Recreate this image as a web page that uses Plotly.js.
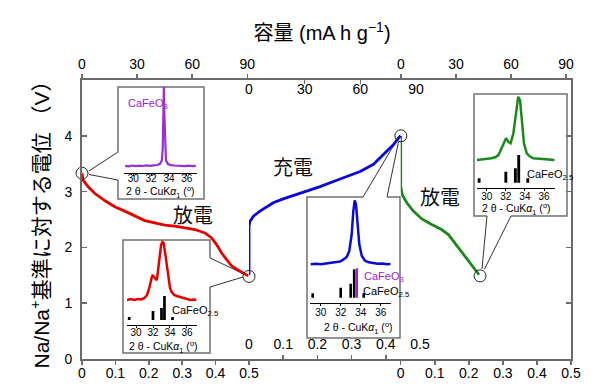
<!DOCTYPE html>
<html><head><meta charset="utf-8">
<script src="https://cdn.plot.ly/plotly-3.0.1.min.js"></script>
<style>html,body{margin:0;padding:0;background:#fff}#chart{width:596px;height:389px}</style>
</head><body><div id="chart"></div>
<script>
// ---------- main electrochemistry curves ----------
// first discharge (x = Na removed/inserted, bottom axis segment 1)
const dischargeX = [0, 0.003, 0.018, 0.038, 0.068, 0.098, 0.128, 0.158, 0.188, 0.218, 0.248, 0.278, 0.308, 0.338, 0.368, 0.388, 0.403, 0.418, 0.433, 0.448, 0.468, 0.488, 0.498];
const dischargeV = [3.33, 3.21, 3.09, 2.97, 2.84, 2.73, 2.65, 2.56, 2.48, 2.44, 2.40, 2.38, 2.35, 2.32, 2.26, 2.17, 2.05, 1.90, 1.78, 1.67, 1.59, 1.52, 1.49];
// charge (middle axis segment)
const chargeX = [0, 0, 0.003, 0.013, 0.032, 0.052, 0.071, 0.100, 0.130, 0.169, 0.208, 0.247, 0.286, 0.325, 0.364, 0.383, 0.403, 0.422, 0.437, 0.443];
const chargeV = [1.51, 2.38, 2.47, 2.56, 2.65, 2.72, 2.80, 2.87, 2.93, 3.00, 3.09, 3.18, 3.27, 3.36, 3.49, 3.60, 3.72, 3.84, 3.96, 4.00];
// second discharge (segment 3)
const discharge2X = [0, 0, 0, 0.005, 0.018, 0.037, 0.062, 0.091, 0.120, 0.140, 0.159, 0.179, 0.198, 0.218, 0.230];
const discharge2V = [4.00, 3.50, 3.09, 2.94, 2.80, 2.65, 2.51, 2.41, 2.32, 2.23, 2.08, 1.93, 1.78, 1.61, 1.51];
// circled measurement points
const circ1X = [0, 0.5], circ1V = [3.33, 1.48];
const circ2X = [0.444], circ2V = [4.00];
const circ3X = [0.233], circ3V = [1.49];

// axis ticks
const compTicks = [0, 0.1, 0.2, 0.3, 0.4, 0.5];
const compLabels = ['0', '0.1', '0.2', '0.3', '0.4', '0.5'];
const capTicks = [0, 30, 60, 90];
const capLabels = ['0', '30', '60', '90'];
const voltTicks = [0, 1, 2, 3, 4];
const xrdTicks = [30, 32, 34, 36];

// ---------- XRD insets (2θ in degrees, intensity in arb. units) ----------
const purpleTheta = [29.1, 29.5, 29.9, 30.3, 30.7, 31.1, 31.5, 31.9, 32.3, 32.7, 33.0, 33.2, 33.3, 33.38, 33.43, 33.48, 33.56, 33.66, 33.85, 34.2, 34.6, 35.0, 35.4, 35.8, 36.2, 36.6, 37.0];
const purpleI = [7.5, 7.0, 7.8, 7.2, 7.6, 7.3, 7.9, 7.4, 8.0, 8.3, 9.5, 13, 25, 60, 88, 60, 25, 13, 9.5, 8.2, 7.8, 7.4, 7.7, 7.2, 7.6, 7.1, 7.4];

const redTheta = [28.95, 29.4, 29.8, 30.2, 30.6, 31.0, 31.3, 31.6, 31.8, 31.95, 32.1, 32.3, 32.45, 32.6, 32.8, 32.95, 33.1, 33.25, 33.4, 33.6, 33.8, 34.0, 34.2, 34.5, 34.8, 35.2, 35.6, 36.0, 36.4, 36.8, 37.1];
const redI = [25, 26, 25, 26, 25.5, 27, 30, 38, 46, 50, 48, 46, 45, 55, 72, 80, 83, 82, 74, 62, 45, 37, 33, 30, 29, 28, 26.5, 26, 25, 25.5, 25];

const blueTheta = [29.0, 29.5, 30.0, 30.6, 31.2, 31.6, 31.93, 32.26, 32.6, 32.86, 33.1, 33.26, 33.4, 33.53, 33.66, 33.86, 34.1, 34.43, 34.8, 35.26, 35.7, 36.2, 36.6, 37.0];
const blueI = [39, 39.5, 39, 40, 40.5, 41, 41.7, 43.7, 46.3, 52.3, 69, 92, 103, 99, 79, 59, 47.6, 42.6, 41, 40, 39.5, 39.8, 39, 39.3];

const greenTheta = [28.95, 29.5, 30.0, 30.5, 30.87, 31.2, 31.39, 31.74, 32.02, 32.26, 32.5, 32.79, 33.04, 33.2, 33.3, 33.49, 33.66, 33.9, 34.19, 34.5, 34.88, 35.4, 35.93, 36.5, 37.1];
const greenI = [28.3, 28.8, 29, 30, 31, 33, 36.6, 45, 50, 46.6, 45, 55, 75, 88, 91.6, 88, 68, 45, 35, 32, 30, 29.5, 29, 28.6, 28.3];

// reference stick patterns
const refTheta = [29.2, 32.0, 33.0, 33.35, 34.3];        // CaFeO2.5
const refRed = [3, 9, 12, 24, 3];
const refBlue = [4.4, 10, 14, 28.4, 4.4];
const refGreen = [4.4, 11, 14.4, 27.7, 4.4];
const ref3Theta = [33.62], ref3Blue = [29.4];             // CaFeO3

// ---------- geometry helpers (pixel -> paper) ----------
const L = 82, R = 571, T = 80, B = 359;
const dx = p => (p - L) / (R - L);
const dy = p => (B - p) / (B - T);
const pathOf = (pts, close) => pts.map((p, i) => (i ? 'L' : 'M') + dx(p[0]).toFixed(5) + ',' + dy(p[1]).toFixed(5)).join(' ') + (close ? ' Z' : '');

const gray = '#6b6b6b';
const latin = 'Liberation Sans, Arial, sans-serif';
const cjk = 'Liberation Sans, Noto Sans CJK JP, sans-serif';
const tickFont = {family: latin, size: 14, color: '#000'};
const insetFont = {family: latin, size: 10, color: '#000'};

const baseAx = {showgrid: false, zeroline: false, showline: true, linecolor: gray, linewidth: 2,
  tickcolor: gray, tickwidth: 1.5, tickfont: tickFont, fixedrange: true};

const insetX = (dom, rng, yref, lso) => ({domain: [dx(dom[0]), dx(dom[1])], range: rng, anchor: yref,
  tickvals: xrdTicks, ticks: 'outside', ticklen: 2, tickcolor: '#000', tickwidth: 1, ticklabelstandoff: lso,
  showline: true, linecolor: '#000', linewidth: 1, showgrid: false, zeroline: false,
  tickfont: insetFont, fixedrange: true});
const insetY = (top, bot, xref, maxv) => ({domain: [dy(bot), dy(top)], range: [0, maxv], anchor: xref, visible: false, fixedrange: true});

const circleMarker = {symbol: 'circle-open', size: 12, color: '#222', line: {width: 1}};
const traces = [
  {x: dischargeX, y: dischargeV, xaxis: 'x', yaxis: 'y', mode: 'lines', line: {color: '#e60000', width: 2.8}},
  {x: chargeX, y: chargeV, xaxis: 'x3', yaxis: 'y', mode: 'lines', line: {color: '#0a0ad8', width: 2.8}},
  {x: discharge2X, y: discharge2V, xaxis: 'x2', yaxis: 'y', mode: 'lines', line: {color: '#1c881c', width: 2.8}},
  {x: circ1X, y: circ1V, xaxis: 'x', yaxis: 'y', mode: 'markers', cliponaxis: false, marker: circleMarker},
  {x: circ2X, y: circ2V, xaxis: 'x3', yaxis: 'y', mode: 'markers', cliponaxis: false, marker: circleMarker},
  {x: circ3X, y: circ3V, xaxis: 'x2', yaxis: 'y', mode: 'markers', cliponaxis: false, marker: circleMarker},
  // empty traces that register the capacity axes and the right-hand frame axis
  {x: [], y: [], xaxis: 'x4', yaxis: 'y', mode: 'lines'},
  {x: [], y: [], xaxis: 'x5', yaxis: 'y', mode: 'lines'},
  {x: [], y: [], xaxis: 'x6', yaxis: 'y', mode: 'lines'},
  {x: [], y: [], xaxis: 'x2', yaxis: 'y2', mode: 'lines'},
  // insets
  {x: purpleTheta, y: purpleI, xaxis: 'x7', yaxis: 'y3', mode: 'lines', line: {color: '#9a2fd6', width: 2.2}},
  {x: redTheta, y: redI, xaxis: 'x8', yaxis: 'y4', mode: 'lines', line: {color: '#e60000', width: 2.5}},
  {x: refTheta, y: refRed, base: 5, width: 0.32, xaxis: 'x8', yaxis: 'y4', type: 'bar', marker: {color: '#000'}},
  {x: blueTheta, y: blueI, xaxis: 'x9', yaxis: 'y5', mode: 'lines', line: {color: '#0a0ad8', width: 2.5}},
  {x: refTheta, y: refBlue, base: 5.6, width: 0.26, xaxis: 'x9', yaxis: 'y5', type: 'bar', marker: {color: '#000'}},
  {x: ref3Theta, y: ref3Blue, base: 5.6, width: 0.22, xaxis: 'x9', yaxis: 'y5', type: 'bar', marker: {color: '#a020d0'}},
  {x: greenTheta, y: greenI, xaxis: 'x10', yaxis: 'y6', mode: 'lines', line: {color: '#1c881c', width: 2.5}},
  {x: refTheta, y: refGreen, base: 5.6, width: 0.3, xaxis: 'x10', yaxis: 'y6', type: 'bar', marker: {color: '#000'}}
];

// inset boxes with speech-bubble wedges
const boxes = [
  {fill: [[118,87],[204,87],[204,199],[118,199],[118,180],[89,173],[118,152]],
   edge: [[118,152],[118,87],[204,87],[204,199],[118,199],[118,180]],
   w1: [[118,152],[89,171]], w2: [[118,180],[89,174.5]]},
  {fill: [[123,240],[210,240],[210,258],[244,275],[210,287],[210,353],[123,353]],
   edge: [[210,258],[210,240],[123,240],[123,353],[210,353],[210,287]],
   w1: [[210,258],[243,273.5]], w2: [[210,287],[243,277]]},
  {fill: [[307,197],[363,197],[397,141],[387,197],[400,197],[400,338],[307,338]],
   edge: [[363,197],[307,197],[307,338],[400,338],[400,197],[387,197]],
   w1: [[363,197],[396,141.5]], w2: [[387,197],[398.5,142]]},
  {fill: [[474,94],[567,94],[567,216],[511,216],[483,269],[487,216],[474,216]],
   edge: [[487,216],[474,216],[474,94],[567,94],[567,216],[511,216]],
   w1: [[487,216],[482,269]], w2: [[511,216],[484.5,269]]}
];
const shapes = [];
boxes.forEach(b => {
  shapes.push({type: 'path', xref: 'paper', yref: 'paper', layer: 'below', path: pathOf(b.fill, true), fillcolor: '#fff', line: {width: 0}});
  shapes.push({type: 'path', xref: 'paper', yref: 'paper', layer: 'below', path: pathOf(b.edge, false), line: {color: '#707070', width: 1.5}});
  shapes.push({type: 'path', xref: 'paper', yref: 'paper', layer: 'below', path: pathOf(b.w1, false), line: {color: '#333', width: 1}});
  shapes.push({type: 'path', xref: 'paper', yref: 'paper', layer: 'below', path: pathOf(b.w2, false), line: {color: '#333', width: 1}});
});

const annFont = {family: 'Noto Sans CJK JP, sans-serif', size: 20, color: '#111'};
const labFont = {family: latin, size: 11, color: '#000'};
const labFontP = {family: latin, size: 11, color: '#a020d0'};
const titleFont = {family: latin, size: 10.5, color: '#000'};
const insetTitle = '2 θ - CuK<i>α</i><sub>1</sub> (<sup>o</sup>)';
const annotations = [
  {text: '放電', xref: 'paper', yref: 'paper', x: dx(192.5), y: dy(214), xanchor: 'center', yanchor: 'middle', showarrow: false, borderpad: 0, font: annFont},
  {text: '充電', xref: 'paper', yref: 'paper', x: dx(293), y: dy(166.5), xanchor: 'center', yanchor: 'middle', showarrow: false, borderpad: 0, font: annFont},
  {text: '放電', xref: 'paper', yref: 'paper', x: dx(440), y: dy(196.5), xanchor: 'center', yanchor: 'middle', showarrow: false, borderpad: 0, font: annFont},
  // inset axis titles
  {text: insetTitle, xref: 'paper', yref: 'paper', x: dx(160), y: dy(191.8), xanchor: 'center', yanchor: 'middle', showarrow: false, borderpad: 0, font: titleFont},
  {text: insetTitle, xref: 'paper', yref: 'paper', x: dx(163), y: dy(347), xanchor: 'center', yanchor: 'middle', showarrow: false, borderpad: 0, font: titleFont},
  {text: insetTitle, xref: 'paper', yref: 'paper', x: dx(357.5), y: dy(328), xanchor: 'center', yanchor: 'middle', showarrow: false, borderpad: 0, font: titleFont},
  {text: insetTitle, xref: 'paper', yref: 'paper', x: dx(516), y: dy(209), xanchor: 'center', yanchor: 'middle', showarrow: false, borderpad: 0, font: titleFont},
  // phase labels
  {text: 'CaFeO<sub>3</sub>', xref: 'x7', yref: 'y3', x: 29.15, y: 69, xanchor: 'left', yanchor: 'middle', showarrow: false, font: labFontP},
  {text: 'CaFeO<sub>2.5</sub>', xref: 'x8', yref: 'y4', x: 34.0, y: 14, xanchor: 'left', yanchor: 'middle', showarrow: false, font: labFont},
  {text: 'CaFeO<sub>3</sub>', xref: 'x9', yref: 'y5', x: 34.15, y: 26, xanchor: 'left', yanchor: 'middle', showarrow: false, font: labFontP},
  {text: 'CaFeO<sub>2.5</sub>', xref: 'x9', yref: 'y5', x: 34.05, y: 11.6, xanchor: 'left', yanchor: 'middle', showarrow: false, font: labFont},
  {text: 'CaFeO<sub>2.5</sub>', xref: 'x10', yref: 'y6', x: 34.0, y: 13.3, xanchor: 'left', yanchor: 'middle', showarrow: false, font: labFont}
];

const layout = {
  width: 596, height: 389,
  margin: {l: L, r: 596 - R, t: T, b: 389 - B, pad: 0},
  paper_bgcolor: '#fff', plot_bgcolor: 'rgba(0,0,0,0)',
  showlegend: false, hovermode: false, barmode: 'overlay',
  title: {text: '容量 (mA h g<sup>−1</sup>)', x: 322 / 596, xanchor: 'center', y: 1 - 33 / 389, yanchor: 'middle',
          font: {family: cjk, size: 20, color: '#000'}},
  // bottom composition axes
  xaxis: Object.assign({}, baseAx, {domain: [0, dx(249)], range: [0, 0.5], anchor: 'y', side: 'bottom',
    tickvals: compTicks, ticktext: compLabels, ticks: 'outside', ticklen: 4, ticklabelstandoff: -4}),
  xaxis2: Object.assign({}, baseAx, {domain: [dx(400.7), 1], range: [0, 0.5], anchor: 'y', side: 'bottom',
    tickvals: compTicks, ticktext: compLabels, ticks: 'outside', ticklen: 4, ticklabelstandoff: -4}),
  xaxis3: Object.assign({}, baseAx, {domain: [dx(249), dx(420)], range: [0, 0.5], anchor: 'y', side: 'bottom',
    tickvals: compTicks, ticktext: compLabels, ticks: 'inside', ticklen: 4,
    ticklabelposition: 'inside', ticklabeloverflow: 'allow', ticklabelstandoff: 3}),
  // top capacity axes
  xaxis4: Object.assign({}, baseAx, {domain: [0, dx(249)], range: [0, 90 * (249 - 82.3) / 165], anchor: 'y', side: 'top',
    tickvals: capTicks, ticktext: capLabels, ticks: 'outside', ticklen: 4, ticklabelstandoff: -1}),
  xaxis5: Object.assign({}, baseAx, {domain: [dx(401), 1], range: [0, 90 * (571 - 401) / 165], anchor: 'y', side: 'top',
    tickvals: capTicks, ticktext: capLabels, ticks: 'outside', ticklen: 4, ticklabelstandoff: -1}),
  xaxis6: Object.assign({}, baseAx, {domain: [dx(249), dx(416)], range: [0, 90], anchor: 'y', side: 'top',
    tickvals: capTicks, ticktext: capLabels, ticks: 'inside', ticklen: 4,
    ticklabelposition: 'inside', ticklabeloverflow: 'allow'}),
  yaxis: Object.assign({}, baseAx, {domain: [0, 1], range: [0, 5], anchor: 'x', side: 'left',
    tickvals: voltTicks, ticks: 'inside', ticklen: 5, ticklabelstandoff: 5,
    title: {text: 'Na/Na<sup>+</sup>基準に対する電位 （V）', font: {family: cjk, size: 21, color: '#000'}, standoff: 9}}),
  yaxis2: Object.assign({}, baseAx, {range: [0, 5], overlaying: 'y', anchor: 'x2', side: 'right',
    tickvals: voltTicks, ticks: 'inside', ticklen: 5, showticklabels: false}),
  // insets
  xaxis7: insetX([124.3, 196.7], [29.0, 37.1], 'y3', -6),
  yaxis3: insetY(87, 173.3, 'x7', 86.3),
  xaxis8: insetX([127, 197], [28.94, 37.18], 'y4', -4),
  yaxis4: insetY(240, 325, 'x8', 85),
  xaxis9: insetX([310, 390.7], [28.93, 37.0], 'y5', -2),
  yaxis5: insetY(196.7, 303.3, 'x9', 106.6),
  xaxis10: insetX([477, 555], [28.98, 37.15], 'y6', -3),
  yaxis6: insetY(94, 188.3, 'x10', 94.3),
  shapes: shapes,
  annotations: annotations
};

Plotly.newPlot('chart', traces, layout, {displayModeBar: false, staticPlot: true});
</script></body></html>
